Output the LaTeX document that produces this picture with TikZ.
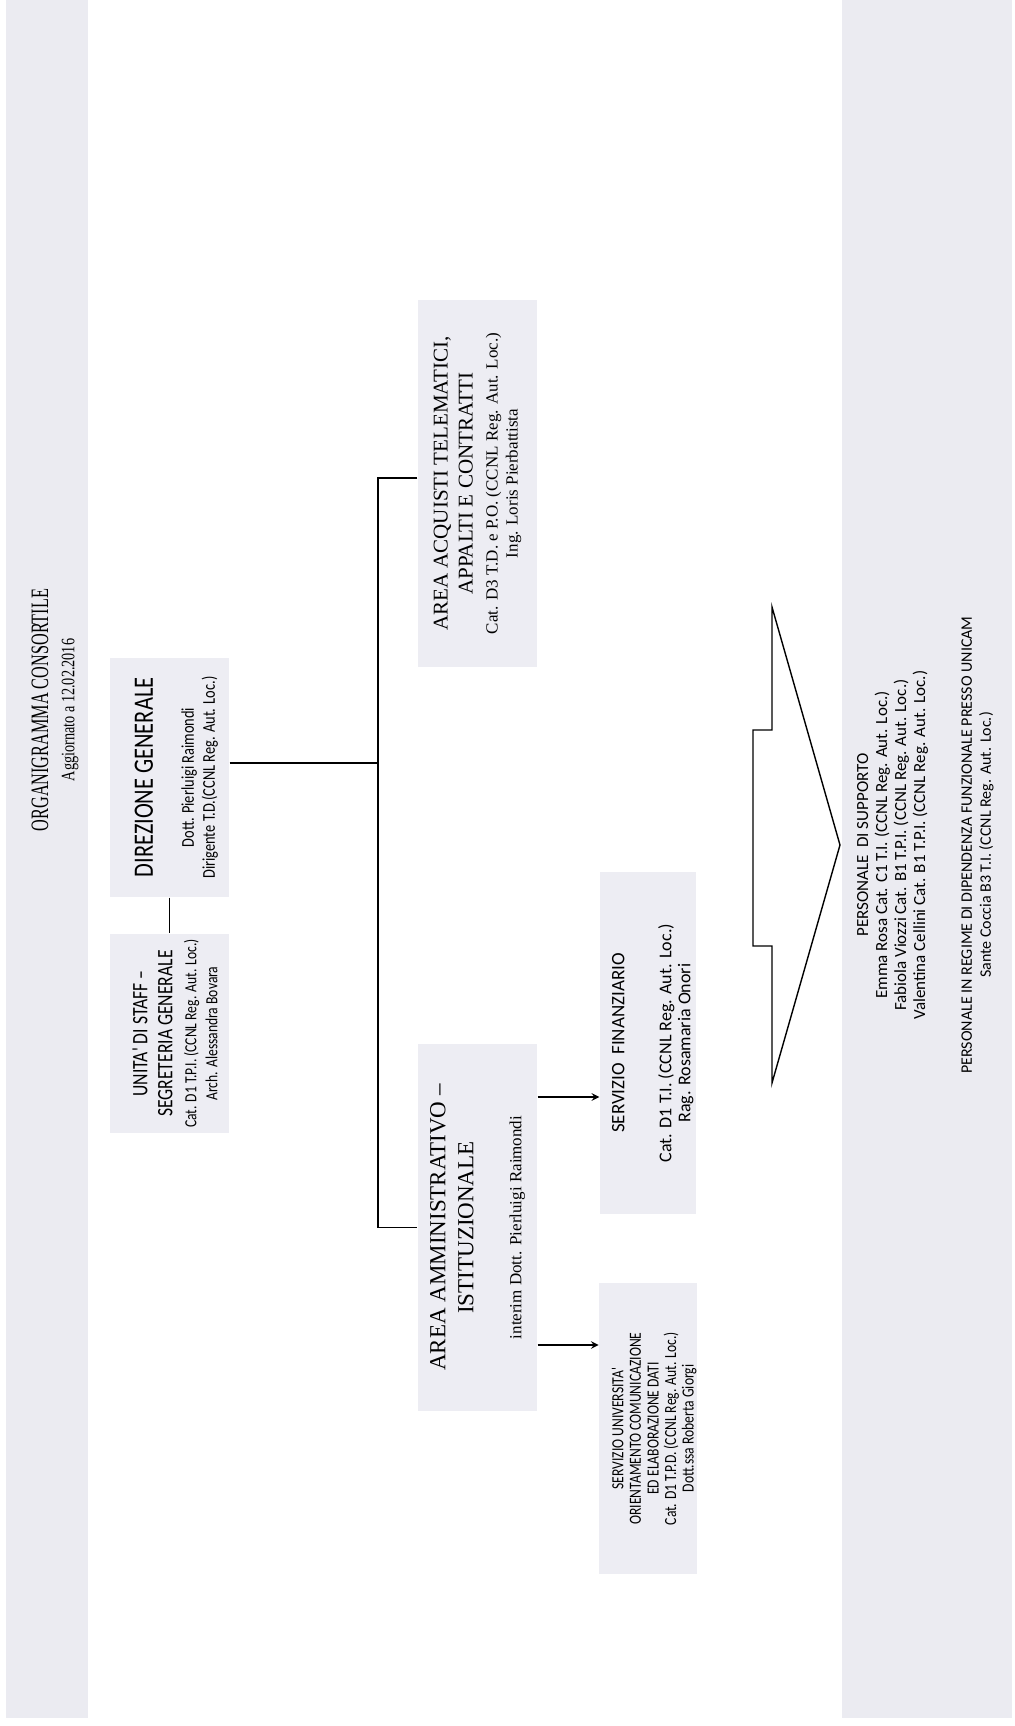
\documentclass[tikz,border=0pt]{standalone}
\usepackage{fontspec}
\setmainfont{Liberation Serif}
\newfontfamily\titleserif[FakeStretch=0.65]{Liberation Serif}
\newfontfamily\dateserif[FakeStretch=0.75]{Liberation Serif}
\newfontfamily\calibri{Carlito}
\newfontfamily\calibrinarrow[FakeStretch=0.8]{Carlito}
\definecolor{boxgray}{RGB}{237,237,243}
\definecolor{bandgray}{RGB}{235,235,241}
\newcommand{\bodyfont}{\fontsize{8.5}{10}\selectfont}

\begin{document}
\begin{tikzpicture}[x=0.5pt,y=-0.5pt,line width=0.7pt,
    orgbox/.style={rotate=90,fill=boxgray,inner sep=0pt,align=center},
    bandtext/.style={rotate=90,align=center,inner sep=0pt}]
                \useasboundingbox (0,0) rectangle (1015,1726);
                \fill[bandgray] (6,0) rectangle (88,1718);
                \fill[bandgray] (842,0) rectangle (1012,1718);

                \node[bandtext,font=\titleserif\fontsize{12.5}{14}\selectfont] (Title) at (40,710) {ORGANIGRAMMA CONSORTILE};
                \node[bandtext,font=\dateserif\fontsize{9.5}{11}\selectfont] (Date) at (70,710) {Aggiornato a 12.02.2016};

                \node[orgbox,minimum width=119.5pt,minimum height=59.5pt,font=\calibrinarrow\fontsize{9}{10.5}\selectfont] (DirGen) at (169.5,777.5)
                    {\rule{0pt}{16pt}{\fontsize{14}{16}\selectfont DIREZIONE GENERALE}\\[10pt]
                     Dott. Pierluigi Raimondi\\
                     Dirigente T.D.(CCNL Reg. Aut. Loc.)};
                \node[orgbox,minimum width=99.5pt,minimum height=59.5pt,font=\calibrinarrow\fontsize{8.5}{10.5}\selectfont] (Staff) at (169.5,1033.5)
                    {\rule{0pt}{13pt}{\fontsize{11}{13}\selectfont UNITA' DI STAFF –}\\[2pt]
                     {\fontsize{11}{13}\selectfont SEGRETERIA GENERALE}\\[1.5pt]
                     Cat. D1 T.P.I. (CCNL Reg. Aut. Loc.)\\
                     Arch. Alessandra Bovara};
                \node[orgbox,minimum width=183.5pt,minimum height=59.5pt,font=\bodyfont] (AreaAcq) at (477.5,483.5)
                    {{\fontsize{10.5}{12.5}\selectfont AREA ACQUISTI TELEMATICI,}\\[2.5pt]
                     {\fontsize{10.5}{12.5}\selectfont APPALTI E CONTRATTI}\\[2.5pt]
                     Cat. D3 T.D. e P.O. (CCNL Reg. Aut. Loc.)\\
                     Ing. Loris Pierbattista};
                \node[orgbox,minimum width=183.5pt,minimum height=59.5pt,font=\bodyfont] (AreaAmm) at (477.5,1227.5)
                    {{\fontsize{11.5}{13}\selectfont AREA AMMINISTRATIVO –}\\[4pt]
                     {\fontsize{11.5}{13}\selectfont ISTITUZIONALE}\\[14pt]
                     interim Dott. Pierluigi Raimondi};
                \node[orgbox,minimum width=171pt,minimum height=48pt,font=\calibri\fontsize{9}{9.5}\selectfont] (ServFin) at (648,1043)
                    {\rule{0pt}{11pt}{\fontsize{9.5}{10}\selectfont SERVIZIO\ \ FINANZIARIO}\\[14pt]
                     Cat. D1 T.I. (CCNL Reg. Aut. Loc.)\\
                     Rag. Rosamaria Onori};
                \node[orgbox,minimum width=145.5pt,minimum height=48pt,font=\calibrinarrow\fontsize{8.5}{8.8}\selectfont] (ServUni) at (648,1428.5)
                    {\rule{0pt}{12pt}SERVIZIO UNIVERSITA'\\
                     ORIENTAMENTO COMUNICAZIONE\\
                     ED ELABORAZIONE DATI\\
                     Cat. D1 T.P.D. (CCNL Reg. Aut. Loc.)\\
                     Dott.ssa Roberta Giorgi};

                \coordinate (TrunkMid) at (378,763);
                \coordinate (TrunkTop) at (378,478);
                \coordinate (TrunkBottom) at (378,1227.5);
                \coordinate (FinLevel) at (0,1097);
                \coordinate (UniLevel) at (0,1345);

                \draw (DirGen.west)--(Staff.east);
                \draw (DirGen.south |- TrunkMid)--(TrunkMid);
                \draw (TrunkTop -| AreaAcq.north)--(TrunkTop)--(TrunkBottom)--(AreaAmm.north);
                \draw[-stealth] (AreaAmm.south |- FinLevel)--(ServFin.north |- FinLevel);
                \draw[-stealth] (AreaAmm.south |- UniLevel)--(ServUni.north |- UniLevel);

                \coordinate (HeadTop) at (772,607);
                \coordinate (HeadTip) at (840,845);
                \coordinate (HeadBottom) at (772,1083);
                \draw (HeadTop)--(HeadTip)--(HeadBottom)--(772,946)--(753,946)--(753,730)--(772,730)--cycle;

                \node[bandtext,font=\calibri\fontsize{8.5}{9.5}\selectfont] (Support) at (892.5,845)
                    {PERSONALE\ \ DI SUPPORTO\\
                     Emma Rosa Cat. C1 T.I. (CCNL Reg. Aut. Loc.)\\
                     Fabiola Viozzi Cat. B1 T.P.I. (CCNL Reg. Aut. Loc.)\\
                     Valentina Cellini Cat. B1 T.P.I. (CCNL Reg. Aut. Loc.)};
                \node[bandtext,font=\calibri\fontsize{8}{9.5}\selectfont] (Unicam) at (977.5,845)
                    {PERSONALE IN REGIME DI DIPENDENZA FUNZIONALE PRESSO UNICAM\\
                     Sante Coccia B3 T.I. (CCNL Reg. Aut. Loc.)};
            \end{tikzpicture}
\end{document}
